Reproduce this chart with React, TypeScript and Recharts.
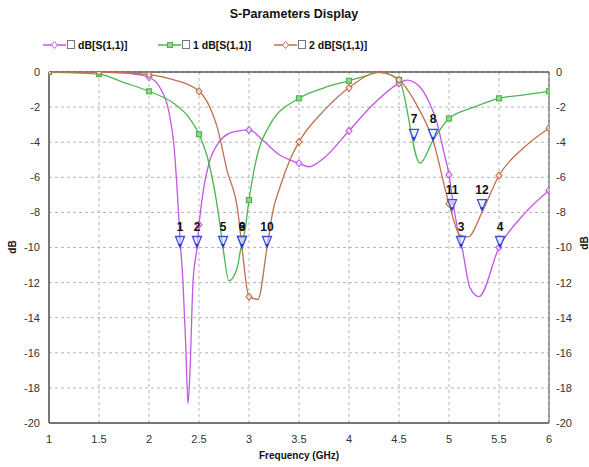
import React from 'react';
import {
    ComposedChart,
    Line,
    Scatter,
    XAxis,
    YAxis,
    CartesianGrid,
    ReferenceLine,
} from 'recharts';

// axis ticks
const freqTicks = [1, 1.5, 2, 2.5, 3, 3.5, 4, 4.5, 5, 5.5, 6];
const dbTicks = [0, -2, -4, -6, -8, -10, -12, -14, -16, -18, -20];

// legend
const seriesNames = ['dB[S(1,1)]', '1 dB[S(1,1)]', '2 dB[S(1,1)]'];
const seriesColors = ['#c257e6', '#4cb64c', '#c0714c'];

// dB[S(1,1)]
const s0Freq = [1, 1.25, 1.5, 1.75, 2, 2.1, 2.2, 2.25, 2.29, 2.31, 2.34, 2.37, 2.39, 2.41, 2.44, 2.48, 2.5, 2.55, 2.6, 2.7, 2.8, 2.9, 3, 3.15, 3.3, 3.5, 3.6, 3.75, 4, 4.25, 4.5, 4.58, 4.7, 4.8, 4.88, 4.94, 5, 5.04, 5.09, 5.13, 5.21, 5.3, 5.5, 5.75, 6];
const s0Db = [0, 0, 0, -0.05, -0.3, -0.8, -2.3, -4.2, -7.5, -9.5, -12, -16, -18.9, -17, -12, -10, -8.7, -6.5, -5.2, -4.0, -3.5, -3.35, -3.3, -3.95, -4.7, -5.2, -5.4, -4.9, -3.35, -1.8, -0.65, -0.46, -0.8, -1.7, -2.9, -4.35, -5.85, -7.4, -9.1, -10, -12.3, -12.8, -10, -8.1, -6.75];

// 1 dB[S(1,1)]
const s1Freq = [1, 1.25, 1.5, 1.75, 2, 2.25, 2.4, 2.5, 2.6, 2.7, 2.74, 2.8, 2.88, 2.92, 2.96, 3, 3.08, 3.21, 3.5, 3.75, 4, 4.15, 4.3, 4.5, 4.71, 4.84, 5, 5.25, 5.5, 5.75, 6];
const s1Db = [0, -0.05, -0.12, -0.6, -1.1, -1.8, -2.6, -3.55, -5.2, -8.3, -10, -11.9, -11.2, -10, -9.0, -7.3, -4.8, -3.0, -1.5, -0.9, -0.5, -0.25, -0.02, -0.45, -5.2, -3.9, -2.65, -2.0, -1.5, -1.3, -1.1];

// 2 dB[S(1,1)]
const s2Freq = [1, 1.5, 2, 2.25, 2.5, 2.6, 2.68, 2.78, 2.89, 2.93, 3, 3.09, 3.18, 3.24, 3.31, 3.41, 3.5, 3.75, 4, 4.3, 4.5, 4.68, 4.84, 5, 5.11, 5.19, 5.33, 5.5, 5.75, 6];
const s2Db = [0, 0, -0.15, -0.45, -1.1, -1.9, -3.1, -5.6, -8.0, -10, -12.8, -12.95, -10, -7.9, -6.55, -5.0, -3.98, -2.2, -0.9, -0.02, -0.45, -1.9, -3.9, -7.5, -9.3, -9.4, -8.0, -5.9, -4.3, -3.2];

// numbered markers
const markerIds = ['1', '2', '3', '4', '5', '6', '7', '8', '9', '10', '11', '12'];
const markerFreq = [2.31, 2.48, 5.12, 5.51, 2.74, 2.93, 4.65, 4.84, 2.93, 3.18, 5.03, 5.33];
const markerDb = [-10, -10, -10, -10, -10, -10, -3.9, -3.9, -10, -10, -7.9, -7.9];

const FONT = '"Liberation Sans", Arial, sans-serif';

const toPoints = (fs: number[], vs: number[]) => fs.map((f, i) => ({ f, v: vs[i] }));

const seriesData = [toPoints(s0Freq, s0Db), toPoints(s1Freq, s1Db), toPoints(s2Freq, s2Db)];
const markerData = markerIds.map((id, i) => ({ id, f: markerFreq[i], v: markerDb[i] }));

/** dot only on the 0.5 GHz grid */
function makeDot(kind: 'diamond' | 'square', color: string) {
    return (props: any) => {
        const { cx, cy, payload, index } = props;
        const onGrid = Math.abs(payload.f * 2 - Math.round(payload.f * 2)) < 1e-6;
        if (!onGrid || cx == null || cy == null) return <g key={`d-${index}`} />;
        if (kind === 'square') {
            return (
                <rect key={`d-${index}`} x={cx - 2.5} y={cy - 2.5} width={5} height={5}
                    fill="#8fd88f" stroke={color} strokeWidth={1.2} />
            );
        }
        return (
            <path key={`d-${index}`}
                d={`M${cx},${cy - 3.5} L${cx + 3},${cy} L${cx},${cy + 3.5} L${cx - 3},${cy} Z`}
                fill="#fff" fillOpacity={0.6} stroke={color} strokeWidth={1.1} />
        );
    };
}

function MarkerShape(props: any) {
    const { cx, cy, payload } = props;
    return (
        <g>
            <path d={`M${cx - 4.5},${cy - 11} L${cx + 4.5},${cy - 11} L${cx},${cy} Z`}
                fill="#dfe4ff" fillOpacity={0.5} stroke="#3a4fe0" strokeWidth={1.3} />
            <circle cx={cx} cy={cy - 2.5} r={1.2} fill="#2233cc" />
            <text x={cx} y={cy - 17} textAnchor="middle" fontSize={12} fontWeight="bold"
                fontFamily={FONT} fill="#111">{payload.id}</text>
        </g>
    );
}

function LegendAndTitles() {
    const items = [
        { x: 43, kind: 'diamond' },
        { x: 158, kind: 'square' },
        { x: 274, kind: 'diamond' },
    ];
    return (
        <svg width={589} height={467} style={{ position: 'absolute', left: 0, top: 0, pointerEvents: 'none' }}>
            <text x={294} y={18} textAnchor="middle" fontSize={12.5} fontWeight="bold" fontFamily={FONT} fill="#111">
                S-Parameters Display
            </text>
            {items.map((it, i) => (
                <g key={i}>
                    <line x1={it.x} x2={it.x + 23} y1={45} y2={45} stroke={seriesColors[i]} strokeWidth={1.5} />
                    {it.kind === 'square'
                        ? <rect x={it.x + 9.5} y={42.5} width={5} height={5} fill="#8fd88f" stroke={seriesColors[i]} />
                        : <path d={`M${it.x + 11.5},${41.5} L${it.x + 14.5},45 L${it.x + 11.5},${48.5} L${it.x + 8.5},45 Z`}
                            fill="#fff" stroke={seriesColors[i]} />}
                    <rect x={it.x + 24.5} y={40.5} width={7} height={8} fill="#fff" stroke="#777" />
                    <text x={it.x + 35} y={49} fontSize={10.5} fontWeight="bold" fontFamily={FONT} fill="#111">
                        {seriesNames[i]}
                    </text>
                </g>
            ))}
            <text x={299} y={459} textAnchor="middle" fontSize={10} fontWeight="bold" fontFamily={FONT} fill="#111">
                Frequency (GHz)
            </text>
            <text x={16} y={247} textAnchor="middle" fontSize={10} fontWeight="bold" fontFamily={FONT} fill="#111"
                transform="rotate(-90 16 247)">dB</text>
            <text x={588} y={243} textAnchor="middle" fontSize={10} fontWeight="bold" fontFamily={FONT} fill="#111"
                transform="rotate(-90 588 243)">dB</text>
        </svg>
    );
}

export default function App() {
    const tickStyle = { fontSize: 11, fill: '#333', fontFamily: FONT };
    return (
        <div style={{ position: 'relative', width: 589, height: 467, background: '#fff' }}>
            <style>{'body{margin:0;}'}</style>
            <ComposedChart width={589} height={467} margin={{ top: 72, right: 0, bottom: 24, left: 0 }}>
                <CartesianGrid yAxisId="l" strokeDasharray="3 3" stroke="#b5b5b5" />
                <XAxis dataKey="f" type="number" domain={[1, 6]} ticks={freqTicks} height={20}
                    tickSize={0} tickMargin={12} axisLine={{ stroke: '#777', strokeWidth: 2 }}
                    tick={tickStyle} allowDataOverflow />
                <YAxis yAxisId="l" type="number" domain={[-20, 0]} ticks={dbTicks} width={49}
                    tickSize={0} tickMargin={9} axisLine={{ stroke: '#777', strokeWidth: 2 }}
                    tick={tickStyle} allowDataOverflow />
                <YAxis yAxisId="r" orientation="right" type="number" domain={[-20, 0]} ticks={dbTicks} width={40}
                    tickSize={0} tickMargin={7} axisLine={{ stroke: '#555', strokeWidth: 1 }}
                    tick={tickStyle} allowDataOverflow />
                <ReferenceLine yAxisId="l" y={0} stroke="#111" strokeWidth={1} />
                {/* invisible copy bound to the right axis so it gets its ticks */}
                <Line data={seriesData[0]} dataKey="v" yAxisId="r" stroke="none" dot={false}
                    activeDot={false} legendType="none" isAnimationActive={false} />
                {seriesData.map((d, i) => (
                    <Line key={seriesNames[i]} data={d} dataKey="v" yAxisId="l" type="monotone"
                        stroke={seriesColors[i]} strokeWidth={1.3}
                        dot={makeDot(i === 1 ? 'square' : 'diamond', seriesColors[i])}
                        activeDot={false} isAnimationActive={false} />
                ))}
                <Scatter data={markerData} dataKey="v" yAxisId="l" shape={MarkerShape} isAnimationActive={false} />
            </ComposedChart>
            <LegendAndTitles />
        </div>
    );
}
